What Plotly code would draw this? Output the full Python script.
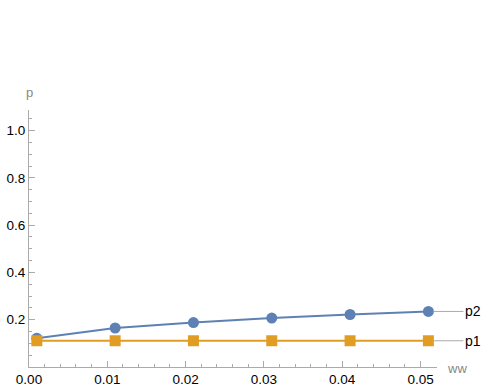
import plotly.graph_objects as go

ww = [0.001, 0.011, 0.021, 0.031, 0.041, 0.051]
p1 = [0.111, 0.111, 0.111, 0.111, 0.111, 0.111]
p2 = [0.122, 0.165, 0.188, 0.207, 0.222, 0.235]
series_names = ["p1", "p2"]
x_ticks = [0.0, 0.01, 0.02, 0.03, 0.04, 0.05]
y_ticks = [0.2, 0.4, 0.6, 0.8, 1.0]

blue = "#5E81B5"
orange = "#E19C24"
font = "Liberation Sans, Arial, sans-serif"

fig = go.Figure()
fig.add_trace(go.Scatter(x=ww, y=p2, mode="lines+markers", name=series_names[1],
                         line=dict(color=blue, width=2),
                         marker=dict(symbol="circle", size=11, color=blue),
                         cliponaxis=False))
fig.add_trace(go.Scatter(x=ww, y=p1, mode="lines+markers", name=series_names[0],
                         line=dict(color=orange, width=2),
                         marker=dict(symbol="square", size=11, color=orange),
                         cliponaxis=False))

for name, ys in ((series_names[1], p2), (series_names[0], p1)):
    fig.add_annotation(x=ww[-1], y=ys[-1], xref="x", yref="y", text=name,
                       showarrow=True, arrowhead=0, arrowwidth=1, arrowcolor="#aaaaaa",
                       ax=35, ay=0, xanchor="left", standoff=5,
                       font=dict(family=font, size=14, color="#000000"))

fig.add_annotation(x=0, y=1.0, xref="paper", yref="paper", yshift=8, text="p",
                   showarrow=False, xanchor="center", yanchor="bottom",
                   font=dict(family=font, size=13, color="#888888"))
fig.add_annotation(x=1.0, y=0, xref="paper", yref="paper", xshift=8, yshift=-1, text="ww",
                   showarrow=False, xanchor="left", yanchor="middle",
                   font=dict(family=font, size=13, color="#888888"))

fig.update_layout(
    width=492, height=391,
    margin=dict(l=29, r=55, t=110, b=24, autoexpand=False),
    paper_bgcolor="white", plot_bgcolor="white",
    showlegend=False,
    font=dict(family=font, size=13.5, color="#000000"),
    xaxis=dict(range=[0, 0.0521], tickvals=x_ticks, tickformat=".2f", automargin=False,
               showgrid=False, zeroline=False, showline=True, linecolor="#aaaaaa", linewidth=1,
               ticks="inside", ticklen=6, tickcolor="#aaaaaa",
               minor=dict(dtick=0.002, ticks="inside", ticklen=3, tickcolor="#aaaaaa"),
               fixedrange=True),
    yaxis=dict(range=[0, 1.087], tickvals=y_ticks, tickformat=".1f", automargin=False,
               showgrid=False, zeroline=False, showline=True, linecolor="#aaaaaa", linewidth=1,
               ticks="inside", ticklen=6, tickcolor="#aaaaaa",
               minor=dict(dtick=0.05, ticks="inside", ticklen=3, tickcolor="#aaaaaa"),
               fixedrange=True),
)

fig.write_html("out.html")
